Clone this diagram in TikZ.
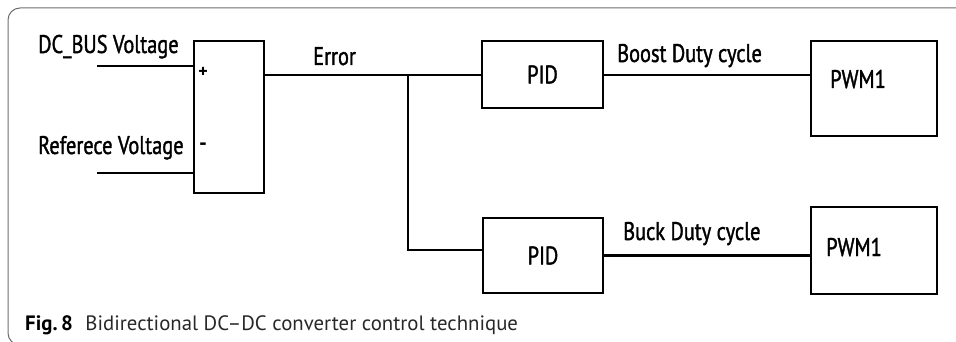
\documentclass[tikz,border=0pt]{standalone}
\usepackage{fontspec}
\setmainfont{PT Sans}
\newfontfamily\diagfont[FakeStretch=0.8,FakeBold=1.4]{PT Sans}
\usetikzlibrary{calc}
\definecolor{framegray}{RGB}{110,110,110}
\definecolor{captext}{RGB}{40,40,40}
\begin{document}
\begin{tikzpicture}[x=1pt,y=-1pt,
        block/.style={draw,line width=2.2pt,inner sep=0pt},
        wire/.style={line width=2.2pt},
        lbl/.style={font=\diagfont\fontsize{25.5}{28}\selectfont,inner sep=0pt,anchor=base west}]
                \useasboundingbox (0,0) rectangle (956,342);
                \clip (0,0) rectangle (956,342);
                \draw[framegray,line width=1pt,rounded corners=12pt] (8,8) rectangle (990,345);
                \node[block,minimum width=70pt,minimum height=152pt] (sum) at (229,117) {};
                \node[block,minimum width=121pt,minimum height=67pt,font=\diagfont\fontsize{25.5}{28}\selectfont] (pid1) at (542.5,74.5) {PID};
                \node[block,minimum width=120pt,minimum height=75pt,font=\diagfont\fontsize{25.5}{28}\selectfont] (pid2) at (543,255.5) {PID};
                \node[block,minimum width=126pt,minimum height=95pt] (pwm1) at (874,88.5) {};
                \node[block,minimum width=126pt,minimum height=87pt] (pwm2) at (874,250.5) {};
                \coordinate (dcin) at (97,66);
                \coordinate (refin) at (97,173);
                \coordinate (split) at (408,75);
                \draw[wire] (dcin) -- (dcin -| sum.west);
                \draw[wire] (refin) -- (refin -| sum.west);
                \draw[wire] (sum.east |- split) -- (split) -- (split -| pid1.west);
                \draw[wire] (split) |- ($(pid2.west)+(0,-5.5)$);
                \draw[wire] (split -| pid1.east) -- (split -| pwm1.west);
                \draw[wire] (pid2.east) -- (pid2.east -| pwm2.west);
                \node[lbl] (dclbl) at (38,53) {DC\_BUS Voltage};
                \node[lbl] (reflbl) at (38,154) {Referece Voltage};
                \node[font=\bfseries\fontsize{18}{18}\selectfont,inner sep=0pt] (plus) at (203,72) {+};
                \node[font=\bfseries\fontsize{22}{22}\selectfont,inner sep=0pt] (minus) at (203,147) {-};
                \node[lbl] (errlbl) at (313,65) {Error};
                \node[lbl] (boostlbl) at (617,62) {Boost Duty cycle};
                \node[lbl] (bucklbl) at (623,240) {Buck Duty cycle};
                \node[lbl] (pwmtxt1) at (830,88) {PWM1};
                \node[lbl] (pwmtxt2) at (826,256) {PWM1};
                \node[inner sep=0pt,anchor=base west,font=\fontsize{20.8}{24}\selectfont] (cap) at (25,330) {\textbf{Fig.\,8}\hspace{0.6em}\textcolor{captext}{Bidirectional DC--DC converter control technique}};
            \end{tikzpicture}
\end{document}
